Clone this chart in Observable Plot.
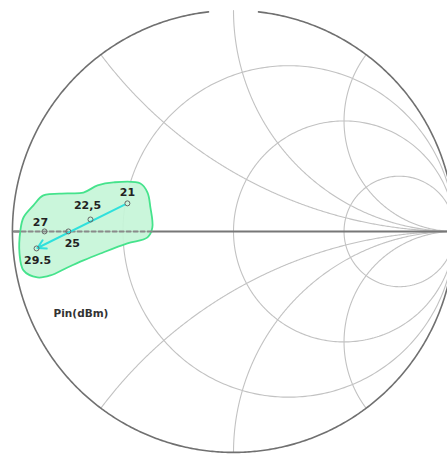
<!DOCTYPE html>
<html>
<head>
<meta charset="utf-8">
<script src="https://cdn.jsdelivr.net/npm/d3@7"></script>
<script src="https://cdn.jsdelivr.net/npm/@observablehq/plot@0.6"></script>
<style>
  html, body { margin: 0; padding: 0; background: #fff; overflow: hidden; }
  svg { overflow: hidden; }
</style>
</head>
<body>
<div id="chart"></div>
<script>
// Smith chart grid values
const resistanceValues = [1/3, 1, 3];
const reactanceValues = [0.5, 1, 2, -0.5, -1, -2];

// Pin(dBm) points as reflection coefficient (real, imag)
const pinLabels = ["21", "22,5", "25", "27", "29.5"];
const gammaRe = [-0.480, -0.647, -0.747, -0.855, -0.891];
const gammaIm = [0.127, 0.054, 0.000, 0.000, -0.077];

// Region outline (reflection coefficient)
const regionRe = [-0.905, -0.860, -0.751, -0.679, -0.615, -0.543, -0.421, -0.389, -0.376, -0.367, -0.389, -0.480, -0.602, -0.679, -0.751, -0.828, -0.887, -0.950, -0.968, -0.964, -0.950];
const regionIm = [0.118, 0.163, 0.172, 0.176, 0.208, 0.222, 0.217, 0.176, 0.109, 0.018, -0.027, -0.054, -0.100, -0.131, -0.163, -0.199, -0.208, -0.176, -0.100, 0.005, 0.063];

// Dashed segment on the real axis across the region
const dashedRe = [-0.99, -0.37];

const legendText = "Pin(dBm)";
const legendRe = -0.69;
const legendIm = -0.37;

// ---- build geometry through the Smith mapping ----
function gamma(r, x) {
  const d = (r + 1) * (r + 1) + x * x;
  return {re: (r * r - 1 + x * x) / d, im: (2 * x) / d};
}
const N = 400;
const gridLines = [];
resistanceValues.forEach((r, k) => {
  for (let i = 0; i <= N; i++) {
    const t = -Math.PI / 2 + 1e-4 + (Math.PI - 2e-4) * i / N;
    const g = gamma(r, Math.tan(t));
    gridLines.push({id: "r" + k, ...g});
  }
});
reactanceValues.forEach((x, k) => {
  for (let i = 0; i <= N; i++) {
    const t = (Math.PI / 2 - 1e-4) * i / N;
    const g = gamma(Math.tan(t), x);
    gridLines.push({id: "x" + k, ...g});
  }
});
// outer circle (r = 0), with the small gap at the top seen in the reference
const outer = [];
let seg = 0;
for (let i = 0; i <= 720; i++) {
  const a = 2 * Math.PI * i / 720;
  const re = Math.cos(a), im = Math.sin(a);
  if (im > 0 && Math.abs(re) < 0.105) { seg = 1; continue; }
  outer.push({id: "o" + seg, re, im});
}

const points = pinLabels.map((l, i) => ({label: l, re: gammaRe[i], im: gammaIm[i]}));
const region = regionRe.map((re, i) => ({re, im: regionIm[i]}));
const dashed = dashedRe.map(re => ({re, im: 0}));
const first = points[0], last = points[points.length - 1];

const W = 447, H = 457;
const labelFont = {fontSize: 11, fontWeight: "bold", fill: "#222", fontFamily: "DejaVu Sans, sans-serif"};

const chart = Plot.plot({
  width: W,
  height: H,
  margin: 0,
  x: {domain: [-1.054, 0.968], axis: null},
  y: {domain: [-1.023, 1.045], axis: null},
  style: {background: "#fff"},
  marks: [
    Plot.line(gridLines, {x: "re", y: "im", z: "id", stroke: "#c2c2c2", strokeWidth: 1.1}),
    Plot.line(outer, {x: "re", y: "im", z: "id", stroke: "#707070", strokeWidth: 1.6}),
    Plot.ruleY([0], {x1: -1, x2: 1.2, stroke: "#777", strokeWidth: 2}),
    Plot.line(region, {x: "re", y: "im", curve: "catmull-rom-closed", fill: "#c6f5d8", fillOpacity: 0.92, stroke: "#45e38c", strokeWidth: 1.8}),
    Plot.line(dashed, {x: "re", y: "im", stroke: "#8a8a8a", strokeWidth: 2, strokeDasharray: "4,3"}),
    Plot.arrow([{x1: first.re, y1: first.im, x2: last.re, y2: last.im}], {x1: "x1", y1: "y1", x2: "x2", y2: "y2", stroke: "#2fe0dc", strokeWidth: 2, headLength: 7, insetStart: 3, insetEnd: 1}),
    Plot.dot(points, {x: "re", y: "im", r: 2.5, stroke: "#666", strokeWidth: 1, fill: "none"}),
    Plot.text(points.filter(d => d.label === "21"), {x: "re", y: "im", text: "label", dy: -11, ...labelFont}),
    Plot.text(points.filter(d => d.label === "22,5"), {x: "re", y: "im", text: "label", dy: -14, dx: -3, ...labelFont}),
    Plot.text(points.filter(d => d.label === "27"), {x: "re", y: "im", text: "label", dy: -9, dx: -4, ...labelFont}),
    Plot.text(points.filter(d => d.label === "25"), {x: "re", y: "im", text: "label", dy: 12, dx: 4, ...labelFont}),
    Plot.text(points.filter(d => d.label === "29.5"), {x: "re", y: "im", text: "label", dy: 12, dx: 1, ...labelFont}),
    Plot.text([legendText], {x: legendRe, y: legendIm, text: d => d, fontSize: 10.5, fontWeight: "bold", fill: "#333", fontFamily: "DejaVu Sans, sans-serif"})
  ]
});
document.getElementById("chart").appendChild(chart);
</script>
</body>
</html>
